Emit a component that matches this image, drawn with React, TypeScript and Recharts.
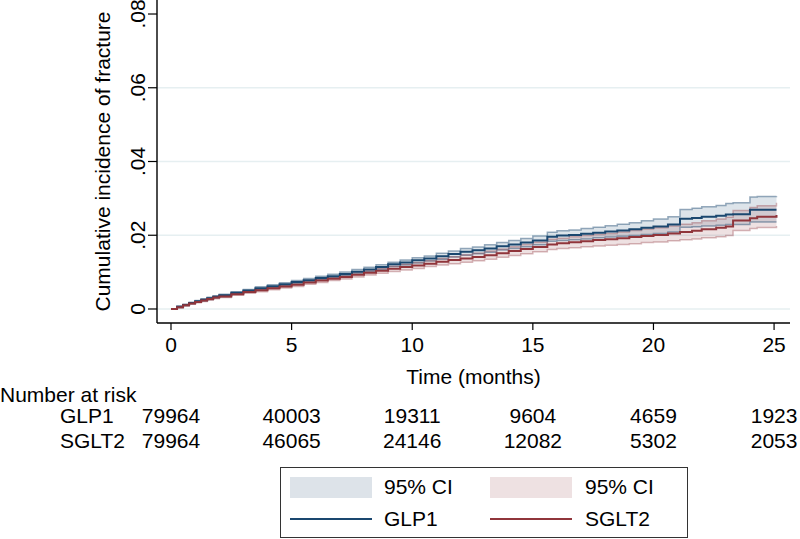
import { ComposedChart, Area, Line, XAxis, YAxis, CartesianGrid } from "recharts";

// follow-up time (months) where the curves are sampled
const months = [
  0, 0.25, 0.5, 0.75, 1,
  1.25, 1.5, 1.75, 2,
  2.5, 3,
  3.5, 4, 4.5, 5,
  5.5, 6, 6.5, 7,
  7.5, 8, 8.5, 9,
  9.5, 10, 10.5, 11,
  11.5, 12, 12.5, 13,
  13.5, 14, 14.5, 15,
  15.6, 16, 16.5, 17,
  17.5, 18, 18.5, 19,
  19.5, 20, 20.6, 21.1,
  21.6, 22, 22.6, 23,
  23.3, 24, 24.3, 25.1,
];

const glp1 = [
  0, 0.0006, 0.0011, 0.0016, 0.0021,
  0.0025, 0.0029, 0.0033, 0.0037,
  0.0044, 0.005,
  0.0056, 0.0062, 0.0067, 0.0073,
  0.0078, 0.0084, 0.0089, 0.0095,
  0.0101, 0.0107, 0.0114, 0.0121,
  0.0126, 0.0132, 0.0137, 0.0143,
  0.0149, 0.0155, 0.0159, 0.0164,
  0.017, 0.0175, 0.018, 0.0186,
  0.0196, 0.0199, 0.0201, 0.0204,
  0.0207, 0.021, 0.0213, 0.0216,
  0.022, 0.0224, 0.0229, 0.0245,
  0.0247, 0.025, 0.0253, 0.0256,
  0.0257, 0.0269, 0.0269, 0.0269,
];
const glp1Hi = [
  0, 0.0008, 0.0013, 0.0018, 0.0023,
  0.0028, 0.0032, 0.0036, 0.004,
  0.0047, 0.0053,
  0.006, 0.0066, 0.0071, 0.0077,
  0.0083, 0.0089, 0.0094, 0.01,
  0.0107, 0.0113, 0.012, 0.0127,
  0.0133, 0.0139, 0.0144, 0.0151,
  0.0157, 0.0164, 0.0168, 0.0174,
  0.018, 0.0186, 0.0191, 0.0198,
  0.0208, 0.0212, 0.0214, 0.0218,
  0.0222, 0.0226, 0.023, 0.0234,
  0.0239, 0.0244, 0.025, 0.027,
  0.0273, 0.0277, 0.0281, 0.0286,
  0.0288, 0.0304, 0.0305, 0.0306,
];
const glp1Lo = [
  0, 0.0004, 0.0009, 0.0014, 0.0019,
  0.0022, 0.0026, 0.003, 0.0034,
  0.0041, 0.0047,
  0.0052, 0.0058, 0.0063, 0.0069,
  0.0073, 0.0079, 0.0084, 0.009,
  0.0095, 0.0101, 0.0108, 0.0115,
  0.0119, 0.0125, 0.013, 0.0135,
  0.0141, 0.0146, 0.015, 0.0154,
  0.016, 0.0164, 0.0169, 0.0174,
  0.0184, 0.0186, 0.0188, 0.019,
  0.0193, 0.0195, 0.0197, 0.0199,
  0.0202, 0.0205, 0.0209, 0.0222,
  0.0223, 0.0225, 0.0227, 0.0229,
  0.0229, 0.0236, 0.0236, 0.0236,
];

const sglt2 = [
  0, 0.0005, 0.001, 0.0015, 0.0019,
  0.0023, 0.0027, 0.0031, 0.0034,
  0.004, 0.0046,
  0.0051, 0.0056, 0.0061, 0.0066,
  0.0072, 0.0077, 0.0082, 0.0087,
  0.0093, 0.0098, 0.0104, 0.0109,
  0.0114, 0.0118, 0.0123, 0.0128,
  0.0133, 0.0137, 0.0141, 0.0146,
  0.0151, 0.0157, 0.0163, 0.0168,
  0.0175, 0.0178, 0.0181, 0.0184,
  0.0187, 0.0189, 0.0192, 0.0195,
  0.0198, 0.0201, 0.0205, 0.0209,
  0.0212, 0.0216, 0.022, 0.0224,
  0.024, 0.0246, 0.025, 0.0255,
];
const sglt2Hi = [
  0, 0.0007, 0.0012, 0.0017, 0.0021,
  0.0026, 0.003, 0.0034, 0.0037,
  0.0043, 0.0049,
  0.0055, 0.006, 0.0065, 0.0071,
  0.0077, 0.0082, 0.0087, 0.0093,
  0.0099, 0.0104, 0.011, 0.0116,
  0.0121, 0.0126, 0.0131, 0.0137,
  0.0142, 0.0147, 0.0152, 0.0157,
  0.0163, 0.0169, 0.0175, 0.0181,
  0.0189, 0.0192, 0.0196, 0.0199,
  0.0202, 0.0205, 0.0209, 0.0213,
  0.0217, 0.022, 0.0225, 0.023,
  0.0234, 0.0239, 0.0244, 0.0249,
  0.0267, 0.0275, 0.028, 0.0288,
];
const sglt2Lo = [
  0, 0.0003, 0.0008, 0.0013, 0.0017,
  0.002, 0.0024, 0.0028, 0.0031,
  0.0037, 0.0043,
  0.0047, 0.0052, 0.0057, 0.0061,
  0.0067, 0.0072, 0.0077, 0.0081,
  0.0087, 0.0092, 0.0097, 0.0102,
  0.0106, 0.011, 0.0115, 0.0119,
  0.0123, 0.0127, 0.0131, 0.0135,
  0.014, 0.0145, 0.015, 0.0155,
  0.0161, 0.0164, 0.0166, 0.0169,
  0.0171, 0.0173, 0.0175, 0.0177,
  0.018, 0.0182, 0.0185, 0.0188,
  0.019, 0.0193, 0.0196, 0.0199,
  0.0213, 0.0218, 0.0221, 0.0225,
];

const xTicks = [0, 5, 10, 15, 20, 25];
const yTicks = [0, 0.02, 0.04, 0.06, 0.08];
const gridValues = [0, 0.02, 0.04, 0.06];

// number at risk, one per x tick
const riskGlp1 = [79964, 40003, 19311, 9604, 4659, 1923];
const riskSglt2 = [79964, 46065, 24146, 12082, 5302, 2053];

const GLP_COLOR = "#1a476f";
const SGLT_COLOR = "#90353b";
const FONT = "'Liberation Sans', Arial, sans-serif";
const FS = 21;

const data = months.map((t, i) => ({
  t,
  glp1: glp1[i],
  sglt2: sglt2[i],
  glp1Lo: glp1Lo[i],
  glp1Hi: glp1Hi[i],
  sglt2Lo: sglt2Lo[i],
  sglt2Hi: sglt2Hi[i],
  glp1Band: [glp1Lo[i], glp1Hi[i]],
  sglt2Band: [sglt2Lo[i], sglt2Hi[i]],
}));

const xDomain = [-0.58, 25.66];

const fmtY = (v: number) => (v === 0 ? "0" : v.toFixed(2).replace(/^0/, ""));

function YTick(props: any) {
  const { x, y, payload } = props;
  return (
    <text
      x={x}
      y={y}
      transform={`rotate(-90, ${x}, ${y})`}
      textAnchor="middle"
      fontSize={FS}
      fontFamily={FONT}
      fill="#000"
    >
      {fmtY(payload.value)}
    </text>
  );
}

function riskLabel(name: string) {
  return (props: any) => {
    const vb = props.viewBox;
    return (
      <text x={60} y={vb.y} dy="0.71em" fontSize={FS} fontFamily={FONT} fill="#000">
        {name}
      </text>
    );
  };
}

export default function App() {
  const tickStyle = { fontSize: FS, fontFamily: FONT, fill: "#000" };
  return (
    <div
      style={{
        position: "absolute",
        left: 0,
        top: 0,
        width: 800,
        height: 539,
        background: "#fff",
        overflow: "hidden",
        fontFamily: FONT,
      }}
    >
      <ComposedChart
        width={800}
        height={539}
        data={data}
        margin={{ top: 0, right: 10, left: 0, bottom: 76 }}
      >
        <CartesianGrid
          vertical={false}
          horizontalValues={gridValues}
          stroke="#e6eff1"
          strokeWidth={1.5}
        />
        <XAxis
          type="number"
          dataKey="t"
          domain={xDomain}
          ticks={xTicks}
          allowDataOverflow
          height={85}
          tickSize={7}
          tickMargin={7}
          tick={tickStyle}
          axisLine={{ stroke: "#000", strokeWidth: 1.4 }}
          tickLine={{ stroke: "#000", strokeWidth: 1.2 }}
          label={(props: any) => {
            const vb = props.viewBox;
            return (
              <g fontSize={FS} fontFamily={FONT} fill="#000">
                <text x={vb.x + vb.width / 2} y={vb.y + 61} textAnchor="middle">
                  Time (months)
                </text>
                <text x={0} y={vb.y + 79}>
                  Number at risk
                </text>
              </g>
            );
          }}
        />
        <XAxis
          xAxisId="riskGlp1"
          type="number"
          dataKey="t"
          domain={xDomain}
          ticks={xTicks}
          allowDataOverflow
          height={25}
          tickSize={0}
          tickMargin={0}
          axisLine={false}
          tickLine={false}
          tick={tickStyle}
          tickFormatter={(v: number) => String(riskGlp1[xTicks.indexOf(v)])}
          label={riskLabel("GLP1")}
        />
        <XAxis
          xAxisId="riskSglt2"
          type="number"
          dataKey="t"
          domain={xDomain}
          ticks={xTicks}
          allowDataOverflow
          height={30}
          tickSize={0}
          tickMargin={0}
          axisLine={false}
          tickLine={false}
          tick={tickStyle}
          tickFormatter={(v: number) => String(riskSglt2[xTicks.indexOf(v)])}
          label={riskLabel("SGLT2")}
        />
        <YAxis
          type="number"
          domain={[-0.0038, 0.0838]}
          ticks={yTicks}
          allowDataOverflow
          width={157}
          tickSize={9}
          tickMargin={3}
          tick={<YTick />}
          axisLine={{ stroke: "#000", strokeWidth: 1.4 }}
          tickLine={{ stroke: "#000", strokeWidth: 1.2 }}
          label={(props: any) => {
            const vb = props.viewBox;
            const cy = vb.y + vb.height / 2;
            return (
              <text
                x={110}
                y={cy}
                transform={`rotate(-90, 110, ${cy})`}
                textAnchor="middle"
                fontSize={FS}
                fontFamily={FONT}
                fill="#000"
              >
                Cumulative incidence of fracture
              </text>
            );
          }}
        />

        <Area
          type="stepAfter"
          dataKey="glp1Band"
          stroke="none"
          fill={GLP_COLOR}
          fillOpacity={0.15}
          isAnimationActive={false}
        />
        <Area
          type="stepAfter"
          dataKey="sglt2Band"
          stroke="none"
          fill={SGLT_COLOR}
          fillOpacity={0.15}
          isAnimationActive={false}
        />
        <Line type="stepAfter" dataKey="glp1Hi" stroke={GLP_COLOR} strokeOpacity={0.45} strokeWidth={1.5} dot={false} isAnimationActive={false} />
        <Line type="stepAfter" dataKey="glp1Lo" stroke={GLP_COLOR} strokeOpacity={0.45} strokeWidth={1.5} dot={false} isAnimationActive={false} />
        <Line type="stepAfter" dataKey="sglt2Hi" stroke={SGLT_COLOR} strokeOpacity={0.35} strokeWidth={1.5} dot={false} isAnimationActive={false} />
        <Line type="stepAfter" dataKey="sglt2Lo" stroke={SGLT_COLOR} strokeOpacity={0.35} strokeWidth={1.5} dot={false} isAnimationActive={false} />
        <Line type="stepAfter" dataKey="glp1" stroke={GLP_COLOR} strokeWidth={2} dot={false} isAnimationActive={false} />
        <Line type="stepAfter" dataKey="sglt2" stroke={SGLT_COLOR} strokeWidth={2} dot={false} isAnimationActive={false} />
      </ComposedChart>

      <div
        style={{
          position: "absolute",
          left: 280,
          top: 467,
          width: 406,
          height: 69,
          border: "1px solid #333",
          fontSize: FS,
          lineHeight: "21px",
          color: "#000",
        }}
      >
        <div style={{ position: "absolute", left: 9, top: 9, width: 82, height: 21, background: "#dde3e9" }} />
        <div style={{ position: "absolute", left: 103, top: 8 }}>95% CI</div>
        <div style={{ position: "absolute", left: 209, top: 9, width: 82, height: 21, background: "#eee1e2" }} />
        <div style={{ position: "absolute", left: 304, top: 8 }}>95% CI</div>
        <div style={{ position: "absolute", left: 9, top: 50, width: 82, height: 2, background: GLP_COLOR }} />
        <div style={{ position: "absolute", left: 103, top: 40 }}>GLP1</div>
        <div style={{ position: "absolute", left: 209, top: 50, width: 82, height: 2, background: SGLT_COLOR }} />
        <div style={{ position: "absolute", left: 304, top: 40 }}>SGLT2</div>
      </div>
    </div>
  );
}
